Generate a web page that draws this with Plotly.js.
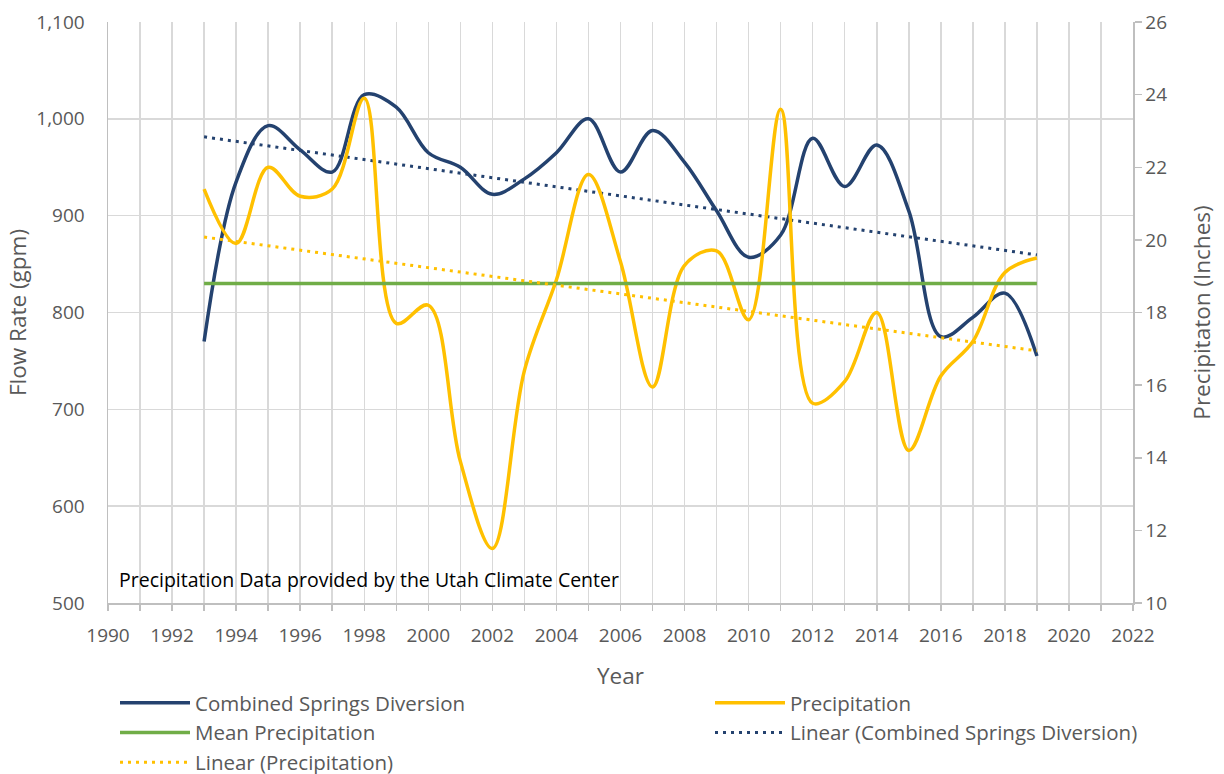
<!DOCTYPE html>
<html>
<head>
<meta charset="utf-8">
<script src="https://cdn.plot.ly/plotly-3.0.1.min.js"></script>
<style>html,body{margin:0;padding:0;background:#fff;}#chart{width:1224px;height:774px;}</style>
</head>
<body>
<div id="chart"></div>
<script>
const years = [1993,1994,1995,1996,1997,1998,1999,2000,2001,2002,2003,2004,2005,2006,2007,2008,2009,2010,2011,2012,2013,2014,2015,2016,2017,2018,2019];
const flowGpm = [770,935,993,968,945,1025,1012,965,950,922,938,965,1000,945,988,955,905,857,880,980,930,973,905,775,795,820,755];
const precipInches = [21.4,19.9,22.0,21.2,21.4,23.9,17.7,18.2,13.9,11.5,16.4,18.9,21.8,19.4,15.95,19.3,19.7,17.8,23.6,15.5,16.1,18.0,14.2,16.25,17.2,19.1,19.5];
const meanPrecip = 18.8;
const xTickYears = [1990,1991,1992,1993,1994,1995,1996,1997,1998,1999,2000,2001,2002,2003,2004,2005,2006,2007,2008,2009,2010,2011,2012,2013,2014,2015,2016,2017,2018,2019,2020,2021,2022];
const xTickLabels = xTickYears.map(y => (y % 2 === 0 ? String(y) : ''));

function linFit(xs, ys) {
  const n = xs.length;
  const mx = xs.reduce((a,b)=>a+b,0)/n;
  const my = ys.reduce((a,b)=>a+b,0)/n;
  let sxy=0, sxx=0;
  for (let i=0;i<n;i++){ sxy += (xs[i]-mx)*(ys[i]-my); sxx += (xs[i]-mx)*(xs[i]-mx); }
  const m = sxy/sxx, b = my - m*mx;
  return xs.map(x => m*x + b);
}

const navy = '#24426F', gold = '#FFC000', green = '#70AD47';
const font = "'Open Sans', sans-serif";
const grey = '#595959';

const traces = [
  {x: years, y: flowGpm, name: 'Combined Springs Diversion', type: 'scatter', mode: 'lines',
   line: {color: navy, width: 3.5, shape: 'spline', smoothing: 1}, yaxis: 'y', legend: 'legend', legendgroup: 'a'},
  {x: years, y: precipInches, name: 'Precipitation', type: 'scatter', mode: 'lines',
   line: {color: gold, width: 3.5, shape: 'spline', smoothing: 1}, yaxis: 'y2', legend: 'legend2', legendgroup: 'b'},
  {x: years, y: years.map(() => meanPrecip), name: 'Mean Precipitation', type: 'scatter', mode: 'lines',
   line: {color: green, width: 3.5}, yaxis: 'y2', legend: 'legend', legendgroup: 'c'},
  {x: years, y: linFit(years, flowGpm), name: 'Linear (Combined Springs Diversion)', type: 'scatter', mode: 'lines',
   line: {color: navy, width: 3, dash: '3px,5px'}, yaxis: 'y', legend: 'legend2', legendgroup: 'd'},
  {x: years, y: linFit(years, precipInches), name: 'Linear (Precipitation)', type: 'scatter', mode: 'lines',
   line: {color: gold, width: 3, dash: '3px,5px'}, yaxis: 'y2', legend: 'legend', legendgroup: 'e'}
];

const legendBase = {
  orientation: 'v', xref: 'paper', yref: 'paper',
  xanchor: 'left', yanchor: 'top', y: (603 - 683) / 581,
  itemwidth: 70, font: {size: 20.5, color: grey}, tracegroupgap: 4,
  bgcolor: 'rgba(0,0,0,0)', traceorder: 'normal'
};

const layout = {
  width: 1224, height: 774,
  margin: {l: 108, r: 91, t: 22, b: 171, autoexpand: false},
  paper_bgcolor: '#fff', plot_bgcolor: '#fff',
  font: {family: font, color: grey, size: 19},
  showlegend: true,
  xaxis: {
    range: [1990, 2022], tickmode: 'array', tickvals: xTickYears, ticktext: xTickLabels, tickangle: 0,
    showgrid: true, gridcolor: '#d9d9d9', gridwidth: 1.5,
    showline: true, linecolor: '#bfbfbf', linewidth: 1.5,
    ticks: 'outside', ticklen: 6, tickcolor: '#bfbfbf', tickwidth: 1.5, ticklabelstandoff: 9,
    tickfont: {size: 19, color: grey}, zeroline: false,
    title: {text: 'Year', font: {size: 22.5, color: grey}, standoff: 21}
  },
  yaxis: {
    range: [500, 1100], dtick: 100, tickformat: ',',
    showgrid: true, gridcolor: '#d9d9d9', gridwidth: 1.5,
    showline: true, linecolor: '#bfbfbf', linewidth: 1.5,
    ticks: '', ticklabelstandoff: 18, tickfont: {size: 19, color: grey}, zeroline: false,
    title: {text: 'Flow Rate (gpm)', font: {size: 22.5, color: grey}, standoff: 3}
  },
  yaxis2: {
    range: [10, 26], dtick: 2, overlaying: 'y', side: 'right',
    showgrid: false, showline: true, linecolor: '#bfbfbf', linewidth: 1.5,
    ticks: 'outside', ticklen: 7, tickcolor: '#bfbfbf', tickwidth: 1.5,
    tickfont: {size: 19, color: grey}, zeroline: false,
    title: {text: 'Precipitaton (Inches)', font: {size: 22.5, color: grey}, standoff: 28}
  },
  legend: Object.assign({}, legendBase, {x: (115 - 108) / 1025}),
  legend2: Object.assign({}, legendBase, {x: (710 - 108) / 1025}),
  annotations: [{
    text: 'Precipitation Data provided by the Utah Climate Center',
    xref: 'paper', yref: 'paper', x: 0.009, y: 0.04, xanchor: 'left', yanchor: 'middle',
    showarrow: false, font: {size: 19.5, color: '#000', family: font}
  }]
};

Plotly.newPlot('chart', traces, layout, {displayModeBar: false, staticPlot: true});
</script>
</body>
</html>
